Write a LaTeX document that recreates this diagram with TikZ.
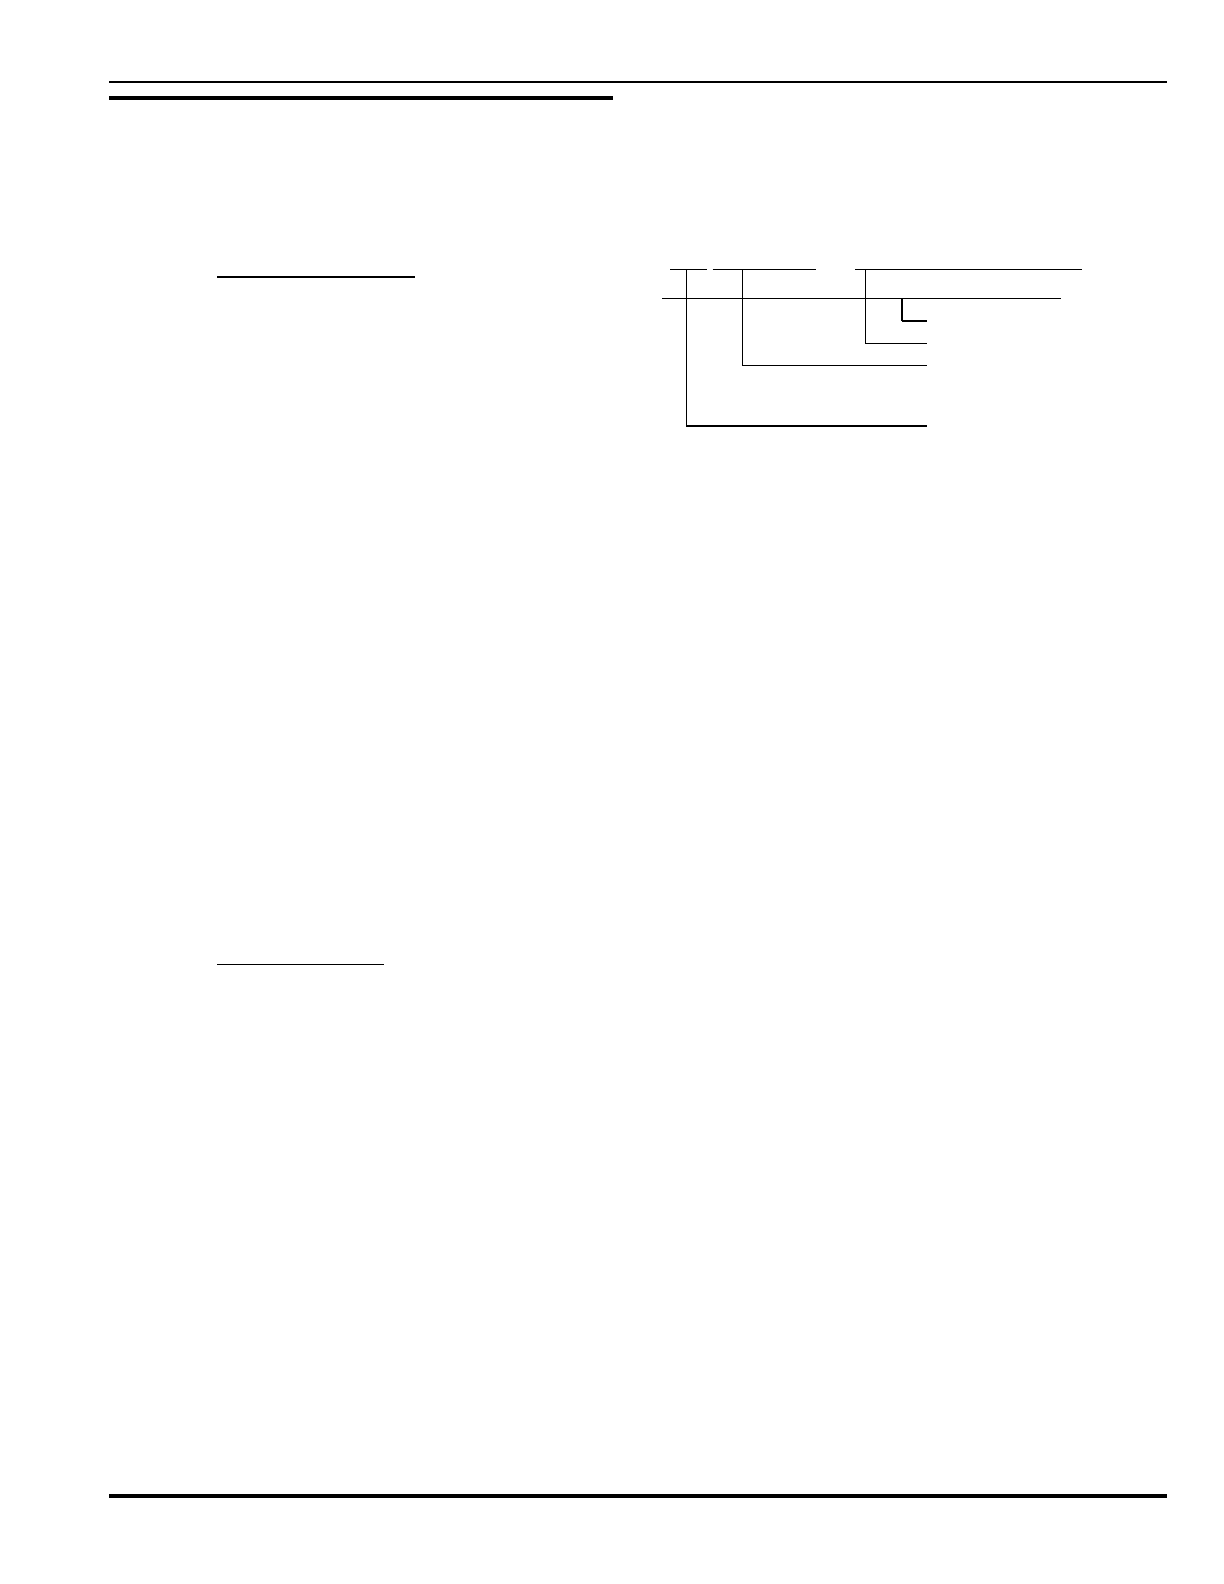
\documentclass[tikz,border=0pt]{standalone}
\begin{document}
\begin{tikzpicture}[x=0.5pt,y=-0.5pt,
  rulethin/.style={line width=0.65pt,line cap=butt},
  rulemid/.style={line width=0.9pt,line cap=butt},
  rulethick/.style={line width=2.1pt,line cap=butt},
  treeline/.style={line width=0.6pt,line cap=butt,line join=miter}]
\useasboundingbox[fill=white] (0,0) rectangle (1224,1584);
% header rules
\draw[rulemid] (109,81.8) -- (1167,81.8);
\draw[rulethick] (109,97.8) -- (612.5,97.8);
% footer rule
\draw[rulethick] (109,1496) -- (1167,1496);
% underlines
\draw[rulethin] (217,277) -- (415,277);
\draw[rulethin] (217,964.3) -- (383.7,964.3);
% tree
\coordinate (t1a) at (670,269.3);
\coordinate (t1b) at (706.7,269.3);
\coordinate (t2a) at (712.7,269.3);
\coordinate (t2b) at (816,269.3);
\coordinate (t3a) at (855.3,269.3);
\coordinate (t3b) at (1081.7,269.3);
\coordinate (r2a) at (662,298.3);
\coordinate (r2b) at (1060.7,298.3);
\draw[treeline] (t1a) -- (t1b);
\draw[treeline] (t2a) -- (t2b);
\draw[treeline] (t3a) -- (t3b);
\draw[treeline] (r2a) -- (r2b);
\draw[treeline] (686.3,269.3) |- (926.7,426);
\draw[treeline] (742.3,269.3) |- (926.7,365.3);
\draw[treeline] (865.7,269.3) |- (926.7,343.3);
\draw[line width=1.1pt] (902,298.3) -- (902,321);
\draw[treeline] (901.5,321) -- (926.7,321);
\end{tikzpicture}
\end{document}
